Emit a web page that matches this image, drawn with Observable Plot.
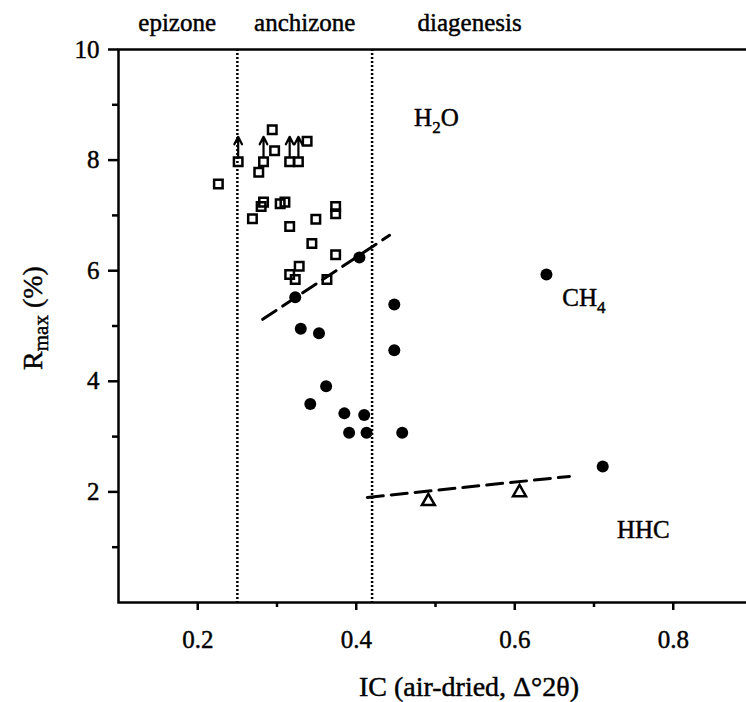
<!DOCTYPE html>
<html><head><meta charset="utf-8">
<script src="https://cdn.jsdelivr.net/npm/d3@7"></script>
<script src="https://cdn.jsdelivr.net/npm/@observablehq/plot@0.6"></script>
<style>
body{margin:0;background:#fff;overflow:hidden}
svg{font-family:"Liberation Serif","Times New Roman",serif}
svg text{stroke:black;stroke-width:0.45px}
tspan{white-space:pre}
</style>
</head><body><div id="chart"></div>
<script>
// Open squares: IC (air-dried, Δ°2θ) and Rmax (%); minFlag = value is a minimum (arrow)
const sqIC   = [0.226,0.251,0.277,0.283,0.294,0.297,0.316,0.327,0.338,0.283,0.280,0.310,0.304,0.269,0.316,0.349,0.374,0.374,0.344,0.374,0.328,0.316,0.323,0.363];
const sqR    = [7.57,7.97,7.78,7.97,8.55,8.17,7.97,7.97,8.34,7.24,7.16,7.24,7.21,6.94,6.80,6.93,7.16,7.03,6.49,6.29,6.08,5.93,5.84,5.84];
const sqMin  = [0,1,0,1,0,0,1,1,0,0,0,0,0,0,0,0,0,0,0,0,0,0,0,0];
// Filled circles
const ciIC   = [0.404,0.323,0.448,0.330,0.353,0.448,0.362,0.342,0.385,0.410,0.391,0.413,0.458,0.640,0.711];
const ciR    = [6.24,5.52,5.39,4.95,4.87,4.56,3.91,3.59,3.42,3.39,3.07,3.07,3.07,5.93,2.46];
// Open triangles
const trIC   = [0.491,0.606];
const trR    = [1.83,1.99];
// Dashed trend lines
const trendA_IC = [0.282,0.442], trendA_R = [5.12,6.64];
const trendB_IC = [0.414,0.669], trendB_R = [1.90,2.28];
// Zone boundaries and names
const zoneBounds = [0.25,0.42];
const zoneNames  = ["epizone","anchizone","diagenesis"];
const zoneIC     = [0.174,0.335,0.543];
// Field labels (_{..} = subscript)
const fieldNames = ["H_{2}O","CH_{4}","HHC"];
const fieldIC    = [0.473,0.660,0.729];
const fieldR     = [8.77,5.50,1.32];
// Ticks
const xMajor = [0.2,0.4,0.6,0.8], xMinor = [0.3,0.5,0.7];
const yMajor = [2,4,6,8,10],     yMinor = [1,3,5,7,9];

const squares = sqIC.map((x,i)=>({x, y: sqR[i], min: sqMin[i]===1}));
const circles = ciIC.map((x,i)=>({x, y: ciR[i]}));
const tris    = trIC.map((x,i)=>({x, y: trR[i]}));
const trendA  = trendA_IC.map((x,i)=>({x, y: trendA_R[i]}));
const trendB  = trendB_IC.map((x,i)=>({x, y: trendB_R[i]}));
const zones   = zoneNames.map((name,i)=>({name, x: zoneIC[i]}));
const fields  = fieldNames.map((name,i)=>({name, x: fieldIC[i], y: fieldR[i]}));

const FS = 25;
const chart = Plot.plot({
  width: 746, height: 702,
  marginLeft: 118, marginRight: -6, marginTop: 49, marginBottom: 100,
  style: {fontFamily: '"Liberation Serif", serif', fontSize: FS + "px", color: "black", background: "white"},
  x: {domain: [0.1, 0.9]},
  y: {domain: [0, 10]},
  marks: [
    Plot.ruleX(zoneBounds, {stroke: "black", strokeWidth: 2.5, strokeDasharray: "2,2"}),
    Plot.frame({stroke: "black", strokeWidth: 2.5}),
    Plot.axisX({ticks: xMajor, tickSize: 8, tickPadding: 20, tickFormat: d3.format(".1f"), label: null, strokeWidth: 2.5, fontSize: FS}),
    Plot.axisX({ticks: xMinor, tickSize: 5, tickFormat: () => "", label: null, strokeWidth: 2.5}),
    Plot.axisY({ticks: yMajor, tickSize: 10, tickPadding: 9, label: null, strokeWidth: 2.5, fontSize: FS}),
    Plot.axisY({ticks: yMinor, tickSize: 6, tickFormat: () => "", label: null, strokeWidth: 2.5}),
    Plot.line(trendA, {x: "x", y: "y", stroke: "black", strokeWidth: 3, strokeDasharray: "16,8"}),
    Plot.line(trendB, {x: "x", y: "y", stroke: "black", strokeWidth: 3, strokeDasharray: "16,8"}),
    Plot.arrow(squares.filter(d => d.min), {x: "x", y1: "y", y2: d => d.y + 0.45, insetStart: 5, headLength: 7, headAngle: 55, stroke: "black", strokeWidth: 2.2}),
    Plot.dot(squares, {x: "x", y: "y", symbol: "square", r: 4.8, stroke: "black", strokeWidth: 2.5, fill: "none"}),
    Plot.dot(circles, {x: "x", y: "y", r: 6, fill: "black", stroke: "none"}),
    Plot.dot(tris, {x: "x", y: "y", symbol: "triangle", r: 4.8, stroke: "black", strokeWidth: 2.5, fill: "none"}),
    Plot.text(zones, {x: "x", y: () => 10, text: "name", dy: -27, fontSize: FS, fill: "black"}),
    Plot.text(fields, {x: "x", y: "y", text: "name", textAnchor: "start", fontSize: FS, fill: "black", className: "field-label"})
  ]
});
document.getElementById("chart").appendChild(chart);

const svg = d3.select(chart);
// turn "_{...}" into lowered, smaller tspans
function applySub(sel, subSize, shift) {
  sel.each(function() {
    const t = d3.select(this), s = t.text();
    if (!s.includes("_{")) return;
    t.text(null);
    let down = false;
    s.split(/(_\{[^}]*\})/).filter(p => p.length).forEach(p => {
      if (p.startsWith("_{")) {
        t.append("tspan").attr("font-size", subSize).attr("dy", shift).text(p.slice(2, -1));
        down = true;
      } else {
        const ts = t.append("tspan").text(p);
        if (down) { ts.attr("dy", -shift); down = false; }
      }
    });
  });
}
applySub(svg.selectAll(".field-label text"), 17, 7);

// Axis titles
svg.append("text")
  .attr("x", 469).attr("y", 696)
  .attr("text-anchor", "middle").attr("font-size", 28).attr("fill", "black")
  .text("IC (air-dried, \u0394\u00B02\u03B8)");
const yt = svg.append("text")
  .attr("transform", "translate(42,318) rotate(-90)")
  .attr("text-anchor", "middle").attr("font-size", 28).attr("fill", "black")
  .text("R_{max} (%)");
applySub(yt, 21, 6);
</script></body></html>
